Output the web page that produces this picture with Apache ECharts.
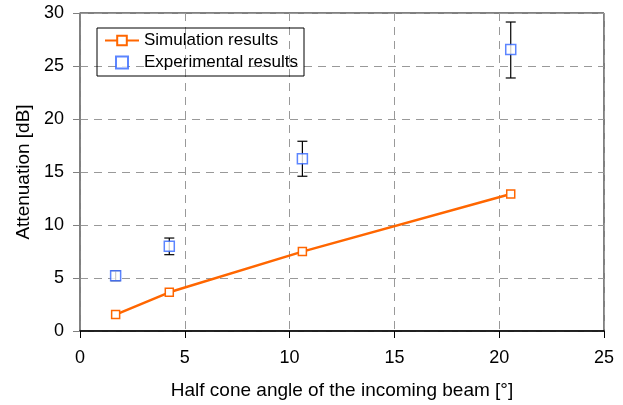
<!DOCTYPE html>
<html>
<head>
<meta charset="utf-8">
<script src="https://cdn.jsdelivr.net/npm/echarts@6/dist/echarts.min.js"></script>
<style>html,body{margin:0;padding:0;background:#fff;}#c{width:623px;height:405px;}</style>
</head>
<body>
<div id="c"></div>
<script>
var simX = [1.7, 4.26, 10.61, 20.55];
var simY = [1.55, 3.65, 7.49, 12.92];
var expX = [1.7, 4.26, 10.61, 20.55];
var expY = [5.22, 7.99, 16.26, 26.55];
var expLow = [4.75, 7.2, 14.6, 23.87];
var expHigh = [5.66, 8.77, 17.9, 29.15];
var xTicks = [0, 5, 10, 15, 20, 25];
var yTicks = [0, 5, 10, 15, 20, 25, 30];

var FONT = 'Liberation Sans, Arial, sans-serif';
var chart = echarts.init(document.getElementById('c'), null, {renderer: 'canvas'});
var simData = simX.map(function (x, i) { return [x, simY[i]]; });
var expData = expX.map(function (x, i) { return [x, expY[i]]; });
var errData = expX.map(function (x, i) { return [x, expLow[i], expHigh[i]]; });

chart.setOption({
  animation: false,
  backgroundColor: '#ffffff',
  grid: {left: 80, right: 19, top: 13, bottom: 74, show: true, borderColor: '#000', borderWidth: 1},
  legend: {
    left: 97, top: 28, orient: 'vertical',
    borderColor: '#000', borderWidth: 1, padding: [4, 6, 5, 7],
    itemGap: 5, itemWidth: 34, itemHeight: 12,
    textStyle: {fontFamily: FONT, fontSize: 17, color: '#000'},
    data: [
      {name: 'Simulation results'},
      {name: 'Experimental results', icon: 'path://M0,0L10,0L10,10L0,10Z'}
    ]
  },
  xAxis: {
    type: 'value', min: 0, max: 25, interval: 5,
    name: 'Half cone angle of the incoming beam [°]', nameLocation: 'middle', nameGap: 50,
    nameTextStyle: {fontFamily: FONT, fontSize: 19, color: '#000'},
    axisLine: {show: true, onZero: false, lineStyle: {color: '#000', width: 1.5}},
    axisTick: {show: true, inside: false, length: 7, lineStyle: {color: '#000'}},
    axisLabel: {fontFamily: FONT, fontSize: 18, color: '#000', margin: 18},
    splitLine: {show: true, lineStyle: {color: '#999', type: [8, 6], width: 1}}
  },
  yAxis: {
    type: 'value', min: 0, max: 30, interval: 5,
    name: 'Attenuation [dB]', nameLocation: 'middle', nameGap: 46,
    nameTextStyle: {fontFamily: FONT, fontSize: 19, color: '#000'},
    axisLine: {show: true, onZero: false, lineStyle: {color: '#808080', width: 1.5}},
    axisTick: {show: true, inside: false, length: 7, lineStyle: {color: '#808080'}},
    axisLabel: {fontFamily: FONT, fontSize: 18, color: '#000', margin: 16},
    splitLine: {show: true, lineStyle: {color: '#999', type: [8, 6], width: 1}}
  },
  series: [
    {
      type: 'custom', name: 'err', z: 3, silent: true,
      data: errData,
      renderItem: function (params, api) {
        var x = api.value(0);
        var lo = api.coord([x, api.value(1)]);
        var hi = api.coord([x, api.value(2)]);
        var w = 5;
        var st = {stroke: '#000', lineWidth: 1.2};
        return {type: 'group', children: [
          {type: 'line', shape: {x1: lo[0], y1: lo[1], x2: hi[0], y2: hi[1]}, style: st},
          {type: 'line', shape: {x1: lo[0] - w, y1: lo[1], x2: lo[0] + w, y2: lo[1]}, style: st},
          {type: 'line', shape: {x1: hi[0] - w, y1: hi[1], x2: hi[0] + w, y2: hi[1]}, style: st}
        ]};
      }
    },
    {
      type: 'line', name: 'Simulation results', z: 5,
      data: simData,
      symbol: 'rect', symbolSize: 8, showAllSymbol: true,
      lineStyle: {color: '#ff6600', width: 2.5},
      itemStyle: {color: '#ffffff', borderColor: '#ff6600', borderWidth: 1.5}
    },
    {
      type: 'scatter', name: 'Experimental results', z: 6,
      data: expData,
      symbol: 'rect', symbolSize: 10,
      itemStyle: {color: '#ffffff', borderColor: '#3366ff', borderWidth: 1.5}
    }
  ]
});
</script>
</body>
</html>
